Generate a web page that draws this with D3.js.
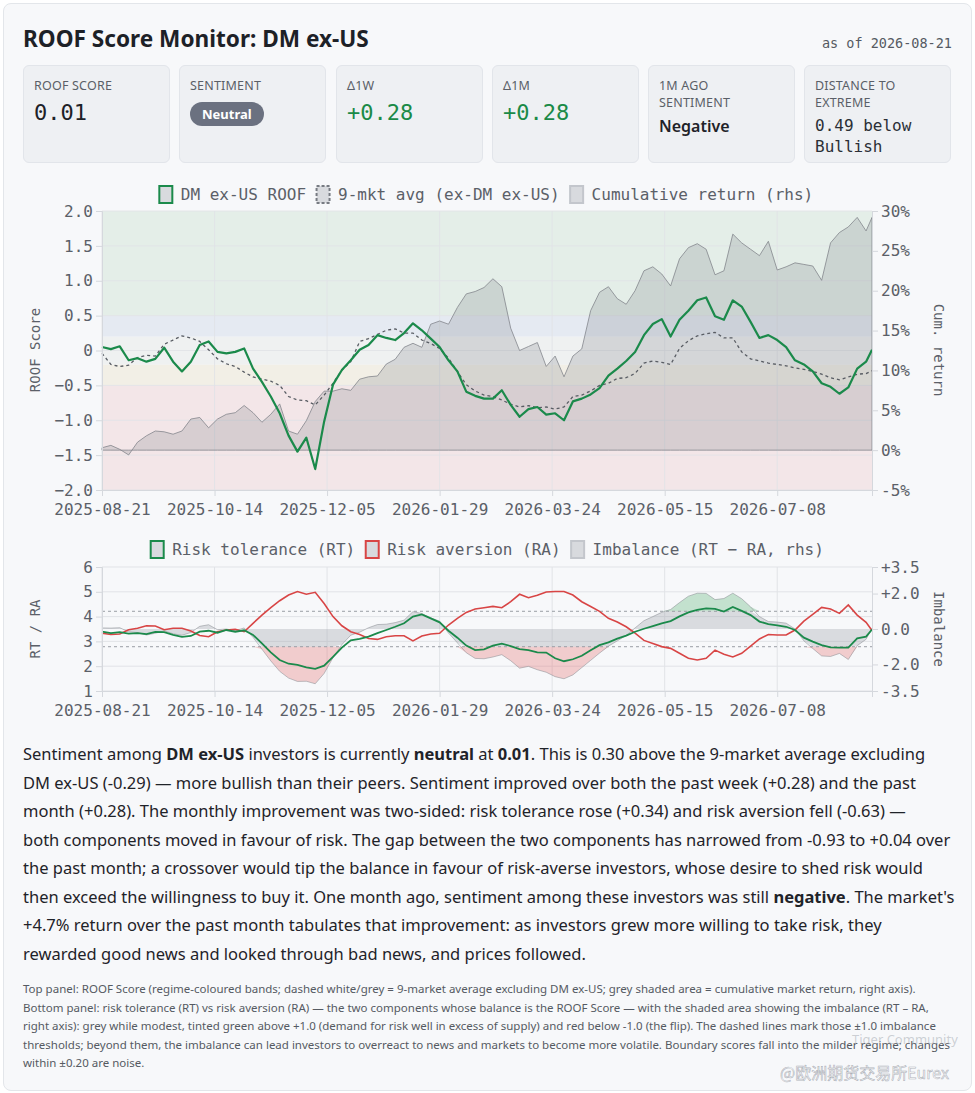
<!DOCTYPE html>
<html>
<head>
<meta charset="utf-8">
<script src="https://cdn.jsdelivr.net/npm/d3@7"></script>
<style>
  body { margin: 0; background: #fff; font-family: "Noto Sans", sans-serif; color: #1f2329; }
  #page { position: absolute; left: 3px; top: 3px; width: 967px; height: 1086px;
          background: #f7f8fa; border: 1px solid #e3e6ea; border-radius: 8px; }
  .abs { position: absolute; }
  #title { left: 23px; top: 23px; font-size: 22.6px; font-weight: 700; color: #1d2127; }
  #asof { right: 23px; top: 35px; font-family: "DejaVu Sans Mono", monospace; font-size: 13.5px; color: #555a62; }
  .card { position: absolute; top: 65px; width: 147px; height: 98px; box-sizing: border-box;
          background: #eef0f3; border: 1px solid #e2e5ea; border-radius: 6px; padding: 11px 10px; }
  .lab { font-size: 12.5px; color: #5a5f67; line-height: 17px; letter-spacing: 0.2px; }
  .val { font-family: "DejaVu Sans Mono", monospace; font-size: 22px; margin-top: 6px; color: #1d2127; }
  .pos { color: #1a8a47; }
  .badge { display: inline-block; margin-top: 8px; background: #6b7180; color: #fff; font-weight: 700;
           font-size: 13px; border-radius: 13px; padding: 3px 12px; }
  .txt { font-size: 16px; font-weight: 600; margin-top: 4px; }
  .mono2 { font-family: "DejaVu Sans Mono", monospace; font-size: 16px; line-height: 21px; margin-top: 4px; color: #2b2f36; }
  #body { left: 23px; top: 740px; font-size: 16.5px; line-height: 28.5px; color: #1f2329; }
  #body div, #foot div { white-space: nowrap; }
  #foot { left: 23px; top: 980px; font-size: 11.5px; line-height: 18.5px; color: #555a62; }
  svg { position: absolute; left: 0; top: 0; }
</style>
</head>
<body>
<div id="page"></div>
<div id="title" class="abs">ROOF Score Monitor: DM ex-US</div>
<div id="asof" class="abs">as of 2026-08-21</div>
<div class="card" style="left:23px"><div class="lab">ROOF SCORE</div><div class="val">0.01</div></div>
<div class="card" style="left:179px"><div class="lab">SENTIMENT</div><div class="badge">Neutral</div></div>
<div class="card" style="left:336px"><div class="lab">Δ1W</div><div class="val pos">+0.28</div></div>
<div class="card" style="left:492px"><div class="lab">Δ1M</div><div class="val pos">+0.28</div></div>
<div class="card" style="left:648px"><div class="lab">1M AGO<br>SENTIMENT</div><div class="txt">Negative</div></div>
<div class="card" style="left:804px"><div class="lab">DISTANCE TO<br>EXTREME</div><div class="mono2">0.49 below<br>Bullish</div></div>

<svg id="chart" width="975" height="730"></svg>

<div id="body" class="abs">
<div>Sentiment among <b>DM ex-US</b> investors is currently <b>neutral</b> at <b>0.01</b>. This is 0.30 above the 9-market average excluding</div>
<div>DM ex-US (-0.29) — more bullish than their peers. Sentiment improved over both the past week (+0.28) and the past</div>
<div>month (+0.28). The monthly improvement was two-sided: risk tolerance rose (+0.34) and risk aversion fell (-0.63) —</div>
<div>both components moved in favour of risk. The gap between the two components has narrowed from -0.93 to +0.04 over</div>
<div>the past month; a crossover would tip the balance in favour of risk-averse investors, whose desire to shed risk would</div>
<div>then exceed the willingness to buy it. One month ago, sentiment among these investors was still <b>negative</b>. The market's</div>
<div>+4.7% return over the past month tabulates that improvement: as investors grew more willing to take risk, they</div>
<div>rewarded good news and looked through bad news, and prices followed.</div>
</div>
<div id="foot" class="abs">
<div>Top panel: ROOF Score (regime-coloured bands; dashed white/grey = 9-market average excluding DM ex-US; grey shaded area = cumulative market return, right axis).</div>
<div>Bottom panel: risk tolerance (RT) vs risk aversion (RA) — the two components whose balance is the ROOF Score — with the shaded area showing the imbalance (RT – RA,</div>
<div>right axis): grey while modest, tinted green above +1.0 (demand for risk well in excess of supply) and red below -1.0 (the flip). The dashed lines mark those ±1.0 imbalance</div>
<div>thresholds; beyond them, the imbalance can lead investors to overreact to news and markets to become more volatile. Boundary scores fall into the milder regime; changes</div>
<div>within ±0.20 are noise.</div>
</div>
<div class="abs" style="left:852px;top:1030px;font-size:13px;color:rgba(150,155,165,0.45)">Tiger Community</div>
<div class="abs" style="left:780px;top:1060px;font-family:'Noto Sans CJK SC',sans-serif;font-size:16px;color:#fff;-webkit-text-stroke:0.6px rgba(140,145,155,0.7)">@欧洲期货交易所Eurex</div>

<script>
// Trading calendar: weekdays from 2025-08-21 to 2026-08-21, minus exchange holidays.
var holidays = ["2025-12-25"];
var fmt = d3.utcFormat("%Y-%m-%d");
var tradingDays = d3.utcDays(new Date("2025-08-21"), new Date("2026-08-22"))
    .filter(function(d) { return d.getUTCDay() % 6 !== 0; })
    .map(fmt)
    .filter(function(s) { return holidays.indexOf(s) < 0; });

// Series are read every third trading day, plus the last day.
var sampleDays = tradingDays.filter(function(d, i, a) { return i % 3 === 0 || i === a.length - 1; });

var tickDates = ["2025-08-21", "2025-10-14", "2025-12-05", "2026-01-29", "2026-03-24", "2026-05-15", "2026-07-08"];

// ROOF score, DM ex-US.
var roofScore = [
    0.05, 0.02, 0.06, -0.14, -0.11, -0.16, -0.12, 0.04, -0.16, -0.30,
    -0.16, 0.08, 0.13, -0.02, -0.04, -0.02, 0.03, -0.26, -0.45, -0.66,
    -0.90, -1.22, -1.45, -1.25, -1.70, -1.02, -0.49, -0.28, -0.14, 0.01,
    0.08, 0.22, 0.18, 0.15, 0.25, 0.39, 0.29, 0.17, 0.05, -0.14,
    -0.30, -0.59, -0.65, -0.69, -0.69, -0.57, -0.78, -0.95, -0.84, -0.81,
    -0.92, -0.90, -1.00, -0.73, -0.69, -0.63, -0.54, -0.36, -0.26, -0.15,
    -0.02, 0.22, 0.38, 0.45, 0.20, 0.44, 0.57, 0.72, 0.76, 0.49,
    0.44, 0.72, 0.63, 0.41, 0.18, 0.22, 0.15, 0.05, -0.14, -0.20,
    -0.30, -0.47, -0.52, -0.62, -0.53, -0.26, -0.16,
    0.01
];

// 9-market average excluding DM ex-US.
var peerAvg = [
    -0.04, -0.20, -0.23, -0.21, -0.10, -0.07, -0.08, 0.09, 0.15, 0.21,
    0.18, 0.13, 0.01, -0.12, -0.19, -0.23, -0.31, -0.38, -0.41, -0.44,
    -0.50, -0.66, -0.71, -0.72, -0.78, -0.64, -0.47, -0.28, -0.16, 0.13,
    0.17, 0.23, 0.29, 0.31, 0.25, 0.25, 0.15, 0.10, 0.03, -0.11,
    -0.30, -0.49, -0.58, -0.64, -0.66, -0.71, -0.77, -0.81, -0.79, -0.82,
    -0.81, -0.84, -0.81, -0.66, -0.64, -0.58, -0.50, -0.47, -0.40, -0.39,
    -0.33, -0.18, -0.15, -0.17, -0.20, 0.03, 0.14, 0.21, 0.24, 0.26,
    0.18, 0.18, -0.02, -0.12, -0.15, -0.18, -0.20, -0.22, -0.25, -0.27,
    -0.30, -0.34, -0.39, -0.42, -0.38, -0.34, -0.33,
    -0.29
];

// Cumulative market return, %.
var cumReturn = [
    0.3, 0.6, 0.1, -0.6, 1.0, 1.8, 2.4, 2.3, 2.0, 2.4,
    3.9, 4.1, 2.8, 3.9, 4.5, 4.7, 5.6, 4.7, 3.5, 4.5,
    5.8, 2.4, 2.0, 3.7, 6.1, 7.4, 7.4, 7.7, 7.5, 8.9,
    9.2, 9.3, 10.8, 11.4, 12.9, 13.4, 12.9, 15.8, 16.2, 15.8,
    17.9, 19.6, 19.9, 20.4, 21.5, 20.5, 15.3, 12.5, 13.0, 13.5,
    10.5, 11.8, 9.2, 11.8, 12.7, 17.5, 19.8, 20.5, 19.0, 18.3,
    20.0, 22.5, 23.0, 22.1, 20.6, 24.0, 25.4, 25.9, 25.2, 22.0,
    22.5, 27.1, 26.0, 25.2, 24.4, 26.2, 22.6, 23.0, 23.5, 23.3,
    23.1, 21.3, 26.0, 27.3, 28.0, 29.2, 27.5,
    29.2
];

// Risk tolerance (RT).
var riskTol = [
    3.39, 3.33, 3.37, 3.31, 3.33, 3.29, 3.38, 3.37, 3.26, 3.18,
    3.22, 3.39, 3.43, 3.35, 3.46, 3.39, 3.45, 3.26, 2.92, 2.56,
    2.25, 2.10, 2.05, 1.95, 1.89, 2.02, 2.38, 2.75, 3.04, 3.10,
    3.19, 3.33, 3.46, 3.59, 3.73, 4.00, 4.09, 3.93, 3.77, 3.43,
    3.15, 2.83, 2.65, 2.68, 2.83, 2.91, 2.81, 2.69, 2.65, 2.56,
    2.55, 2.32, 2.20, 2.28, 2.42, 2.64, 2.85, 2.96, 3.11, 3.23,
    3.39, 3.51, 3.62, 3.73, 3.82, 4.01, 4.17, 4.27, 4.33, 4.31,
    4.20, 4.39, 4.23, 4.06, 3.80, 3.70, 3.65, 3.59, 3.46, 3.15,
    2.99, 2.85, 2.76, 2.75, 2.75, 3.12, 3.19,
    3.48
];

// Risk aversion (RA).
var riskAv = [
    3.33, 3.28, 3.30, 3.47, 3.53, 3.63, 3.62, 3.47, 3.53, 3.53,
    3.42, 3.24, 3.19, 3.39, 3.46, 3.49, 3.39, 3.73, 4.06, 4.36,
    4.64, 4.87, 5.01, 4.90, 4.98, 4.53, 4.00, 3.63, 3.39, 3.28,
    3.12, 3.08, 3.19, 3.23, 3.23, 3.02, 3.22, 3.30, 3.33, 3.66,
    3.93, 4.17, 4.31, 4.36, 4.41, 4.36, 4.60, 4.90, 4.76, 4.86,
    4.99, 5.01, 5.01, 4.87, 4.60, 4.41, 4.21, 3.93, 3.78, 3.59,
    3.33, 3.04, 2.92, 2.79, 2.72, 2.52, 2.32, 2.25, 2.32, 2.65,
    2.48, 2.37, 2.52, 2.81, 3.10, 3.28, 3.26, 3.26, 3.46, 3.82,
    4.09, 4.37, 4.31, 4.13, 4.47, 4.06, 3.77,
    3.44
];

// Regime bands for the ROOF score.
var regimeEdges = [-2, -0.5, -0.2, 0.2, 0.5, 2];
var regimeColors = ["#f3e6e8", "#f2efe6", "#eff1f1", "#e5eaf2", "#e4eee8"];

var imbalanceThreshold = 1.0;

(function() {
var rows = sampleDays.map(function(d, i) {
    return { date: d, roof: roofScore[i], avg: peerAvg[i], ret: cumReturn[i],
             rt: riskTol[i], ra: riskAv[i], imb: riskTol[i] - riskAv[i] };
});

var svg = d3.select("#chart");
var mono = "DejaVu Sans Mono, monospace";
var axisGrey = "#5b6068";
var gridGrey = "#e1e3e7";

var x = d3.scalePoint().domain(tradingDays).range([102, 872]);

function styleAxis(g) {
    g.selectAll("text").attr("font-family", mono).attr("font-size", 16).attr("fill", axisGrey);
    g.selectAll("line").attr("stroke", "#d5d8dd");
    g.select(".domain").attr("stroke", "#d5d8dd");
}

// Legend row of boxed swatches, centred on cx.
function legend(items, y, cx) {
    var g = svg.append("g");
    var pos = 0;
    items.forEach(function(it) {
        var item = g.append("g").attr("transform", "translate(" + pos + ",0)");
        item.append("rect").attr("x", 0.5).attr("y", y - 8).attr("width", 13).attr("height", 17)
            .attr("fill", "#d8dade").attr("stroke", it.stroke).attr("stroke-width", 2)
            .attr("stroke-dasharray", it.dash || null);
        var t = item.append("text").attr("x", 22).attr("y", y + 6).text(it.label)
            .attr("font-family", mono).attr("font-size", 16).attr("fill", axisGrey);
        pos += 22 + t.node().getComputedTextLength() + 10;
    });
    g.attr("transform", "translate(" + (cx - (pos - 10) / 2) + ",0)");
}

function xAxis(yPos) {
    svg.append("g").attr("transform", "translate(0," + yPos + ")")
        .call(d3.axisBottom(x).tickValues(tickDates).tickSize(6).tickPadding(8))
        .call(styleAxis);
}

function sideLabel(text, xPos, yMid, rot) {
    svg.append("text").attr("transform", "translate(" + xPos + "," + yMid + ") rotate(" + rot + ")")
        .attr("text-anchor", "middle").attr("font-family", mono).attr("font-size", 14)
        .attr("fill", axisGrey).text(text);
}

// ---------- Top panel ----------
var y = d3.scaleLinear().domain([-2, 2]).range([490, 211]);
var yR = d3.scaleLinear().domain([-5, 30]).range([490, 211]);

var topPanel = svg.append("g");
topPanel.selectAll("rect.band").data(regimeColors).enter().append("rect")
    .attr("x", x.range()[0]).attr("width", x.range()[1] - x.range()[0])
    .attr("y", function(c, i) { return y(regimeEdges[i + 1]); })
    .attr("height", function(c, i) { return y(regimeEdges[i]) - y(regimeEdges[i + 1]); })
    .attr("fill", function(c) { return c; });

topPanel.selectAll("line.h").data(d3.range(-2, 2.01, 0.5)).enter().append("line")
    .attr("x1", 102).attr("x2", 872).attr("y1", y).attr("y2", y)
    .attr("stroke", gridGrey).attr("stroke-width", 1).attr("opacity", 0.8);
topPanel.selectAll("line.v").data(tickDates).enter().append("line")
    .attr("x1", x).attr("x2", x).attr("y1", 211).attr("y2", 490)
    .attr("stroke", gridGrey).attr("stroke-width", 1).attr("opacity", 0.8);

topPanel.append("path").datum(rows)
    .attr("d", d3.area().x(function(d) { return x(d.date); }).y0(yR(0)).y1(function(d) { return yR(d.ret); }))
    .attr("fill", "rgba(105,108,118,0.2)")
    .attr("stroke", "rgba(125,128,135,0.75)").attr("stroke-width", 1);

topPanel.append("path").datum(rows)
    .attr("d", d3.line().x(function(d) { return x(d.date); }).y(function(d) { return y(d.avg); }))
    .attr("fill", "none").attr("stroke", "#585c63").attr("stroke-width", 1.3).attr("stroke-dasharray", "3,3");

topPanel.append("path").datum(rows)
    .attr("d", d3.line().x(function(d) { return x(d.date); }).y(function(d) { return y(d.roof); }))
    .attr("fill", "none").attr("stroke", "#1b8a4b").attr("stroke-width", 2.2).attr("stroke-linejoin", "round");

svg.append("g").attr("transform", "translate(102,0)")
    .call(d3.axisLeft(y).tickValues(d3.range(-2, 2.01, 0.5)).tickSize(6).tickPadding(3)
        .tickFormat(function(v) { return Math.abs(v) < 1e-9 ? "0" : d3.format(".1f")(v); }))
    .call(styleAxis);
svg.append("g").attr("transform", "translate(872,0)")
    .call(d3.axisRight(yR).tickValues(d3.range(-5, 31, 5)).tickSize(6).tickPadding(3)
        .tickFormat(function(v) { return v + "%"; }))
    .call(styleAxis);
xAxis(490);
sideLabel("ROOF Score", 40, 350, -90);
sideLabel("Cum. return", 934, 350, 90);

legend([
    { label: "DM ex-US ROOF", stroke: "#1b8a4b" },
    { label: "9-mkt avg (ex-DM ex-US)", stroke: "#777b82", dash: "3,2" },
    { label: "Cumulative return (rhs)", stroke: "#c3c6cc" }
], 194, 486);

// ---------- Bottom panel ----------
var yB = d3.scaleLinear().domain([1, 6]).range([691, 567]);
var yI = d3.scaleLinear().domain([-3.5, 3.5]).range([691, 567]);

var botPanel = svg.append("g");
botPanel.selectAll("line.h").data(d3.range(1, 7)).enter().append("line")
    .attr("x1", 102).attr("x2", 872).attr("y1", yB).attr("y2", yB)
    .attr("stroke", gridGrey).attr("stroke-width", 1);
botPanel.selectAll("line.v").data(tickDates).enter().append("line")
    .attr("x1", x).attr("x2", x).attr("y1", 567).attr("y2", 691)
    .attr("stroke", gridGrey).attr("stroke-width", 1);

function imbArea(base, clampFn) {
    return d3.area().x(function(d) { return x(d.date); })
        .y0(yI(base)).y1(function(d) { return yI(clampFn(d.imb)); });
}
botPanel.append("path").datum(rows)
    .attr("d", imbArea(0, function(v) { return Math.max(-imbalanceThreshold, Math.min(imbalanceThreshold, v)); }))
    .attr("fill", "rgba(150,153,162,0.3)");
botPanel.append("path").datum(rows)
    .attr("d", imbArea(imbalanceThreshold, function(v) { return Math.max(imbalanceThreshold, v); }))
    .attr("fill", "rgba(60,165,95,0.28)");
botPanel.append("path").datum(rows)
    .attr("d", imbArea(-imbalanceThreshold, function(v) { return Math.min(-imbalanceThreshold, v); }))
    .attr("fill", "rgba(225,90,90,0.28)");
botPanel.append("path").datum(rows)
    .attr("d", d3.line().x(function(d) { return x(d.date); }).y(function(d) { return yI(d.imb); }))
    .attr("fill", "none").attr("stroke", "rgba(140,143,150,0.55)").attr("stroke-width", 1);

botPanel.selectAll("line.thr").data([imbalanceThreshold, -imbalanceThreshold]).enter().append("line")
    .attr("x1", 102).attr("x2", 872).attr("y1", yI).attr("y2", yI)
    .attr("stroke", "#9a9ea5").attr("stroke-width", 1).attr("stroke-dasharray", "3,3");

botPanel.append("path").datum(rows)
    .attr("d", d3.line().x(function(d) { return x(d.date); }).y(function(d) { return yB(d.ra); }))
    .attr("fill", "none").attr("stroke", "#d84545").attr("stroke-width", 1.6);
botPanel.append("path").datum(rows)
    .attr("d", d3.line().x(function(d) { return x(d.date); }).y(function(d) { return yB(d.rt); }))
    .attr("fill", "none").attr("stroke", "#1b8a4b").attr("stroke-width", 1.8);

svg.append("g").attr("transform", "translate(102,0)")
    .call(d3.axisLeft(yB).tickValues(d3.range(1, 7)).tickSize(6).tickPadding(3).tickFormat(d3.format("d")))
    .call(styleAxis);
svg.append("g").attr("transform", "translate(872,0)")
    .call(d3.axisRight(yI).tickValues([-3.5, -2, 0, 2, 3.5]).tickSize(6).tickPadding(3)
        .tickFormat(function(v) { return v > 0 ? "+" + v.toFixed(1) : v.toFixed(1); }))
    .call(styleAxis);
xAxis(691);
sideLabel("RT / RA", 40, 629, -90);
sideLabel("Imbalance", 934, 629, 90);

legend([
    { label: "Risk tolerance (RT)", stroke: "#1b8a4b" },
    { label: "Risk aversion (RA)", stroke: "#d84545" },
    { label: "Imbalance (RT − RA, rhs)", stroke: "#c3c6cc" }
], 549, 487);
})();
</script>
</body>
</html>
